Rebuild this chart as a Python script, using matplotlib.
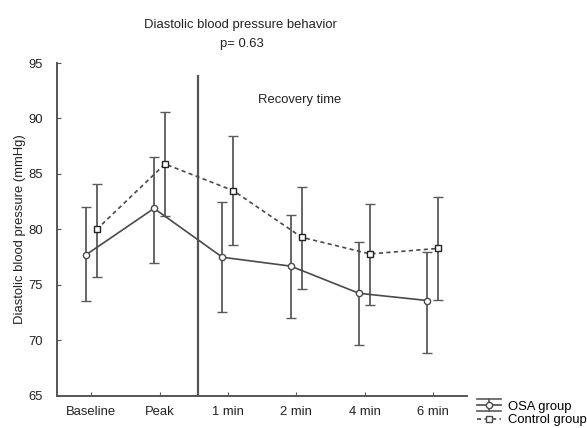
import matplotlib
matplotlib.use("Agg")
import matplotlib.pyplot as plt
from matplotlib.lines import Line2D
from matplotlib.legend_handler import HandlerBase
import numpy as np

plt.rcParams['font.family'] = ['Liberation Sans', 'DejaVu Sans']

# Time points and group means with error bar limits (mmHg)
categories = ["Baseline", "Peak", "1 min", "2 min", "4 min", "6 min"]
osa_mean = [77.7, 81.9, 77.5, 76.7, 74.25, 73.6]
osa_upper = [82.0, 86.5, 82.5, 81.3, 78.85, 78.0]
osa_lower = [73.6, 77.0, 72.6, 72.0, 69.6, 68.85]
ctrl_mean = [80.0, 85.9, 83.5, 79.3, 77.8, 78.3]
ctrl_upper = [84.1, 90.6, 88.4, 83.8, 82.3, 82.9]
ctrl_lower = [75.75, 81.2, 78.6, 74.6, 73.2, 73.65]

FS = 9.4
col = "#4a4a4a"
ecol = "#5a5a5a"
dash = (0, (2.5, 2))


class RangeHandler(HandlerBase):
    """Legend key: line with marker between two horizontal whiskers."""

    def __init__(self, marker, ls, whiskers):
        super().__init__()
        self.marker = marker
        self.ls = ls
        self.whiskers = whiskers

    def create_artists(self, legend, orig_handle, xdescent, ydescent, width, height,
                       fontsize, trans):
        cy = height / 2 - ydescent
        x0, x1 = -xdescent, width - xdescent
        xm = (x0 + x1) / 2
        arts = []
        if self.whiskers:
            d = height * 0.65
            for yy in (cy + d, cy - d):
                arts.append(Line2D([x0, x1], [yy, yy], color=ecol, lw=1.2))
            arts.append(Line2D([xm, xm], [cy - d, cy + d], color=ecol, lw=1.2))
        arts.append(Line2D([x0, x1], [cy, cy], color=col, lw=1.2, ls=self.ls))
        arts.append(Line2D([xm], [cy], marker=self.marker, ms=4.5, mfc='white',
                           mec=col, mew=1.0, ls='none'))
        for a in arts:
            a.set_transform(trans)
        return arts


fig = plt.figure(figsize=(5.87, 4.28), dpi=100)
ax = fig.add_axes([0.0971, 0.0748, 0.6985, 0.778])

x = np.arange(len(categories))
off = 0.08

osa_err = [np.array(osa_mean) - np.array(osa_lower), np.array(osa_upper) - np.array(osa_mean)]
ctrl_err = [np.array(ctrl_mean) - np.array(ctrl_lower), np.array(ctrl_upper) - np.array(ctrl_mean)]

h1 = ax.errorbar(x - off, osa_mean, yerr=osa_err, color=col, ecolor=ecol, lw=1.2,
                 elinewidth=1.3, capsize=3.5, capthick=1.2, marker='o', ms=4.5,
                 mfc='white', mec=col, mew=1.0, ls='-')
h2 = ax.errorbar(x + off, ctrl_mean, yerr=ctrl_err, color=col, ecolor=ecol, lw=1.2,
                 elinewidth=1.3, capsize=3.5, capthick=1.2, marker='s', ms=4.5,
                 mfc='white', mec='#222222', mew=1.0, ls=dash)

# Separator between exercise and recovery phases
ax.plot([1.56, 1.56], [65, 93.8], color="#555555", lw=1.6, zorder=1)
ax.text(2.44, 91.7, "Recovery time", fontsize=FS, color="#222222", va='center', ha='left')

ax.set_xlim(-0.5, 5.5)
ax.set_ylim(65, 95)
ax.set_xticks(x)
ax.set_xticklabels(categories)
ax.set_yticks([65, 70, 75, 80, 85, 90, 95])
ax.tick_params(direction='in', length=3, width=0.8, colors="#555555", labelcolor="#222222",
               labelsize=FS)
ax.tick_params(axis='x', pad=7)
ax.tick_params(axis='y', pad=10)
for s in ["top", "right"]:
    ax.spines[s].set_visible(False)
for s in ["left", "bottom"]:
    ax.spines[s].set_color("#555555")
    ax.spines[s].set_linewidth(1.4)

ax.set_ylabel("Diastolic blood pressure (mmHg)", fontsize=FS, color="#222222")
ax.yaxis.set_label_coords(-0.076, 0.5)

fig.text(0.41, 0.942, "Diastolic blood pressure behavior", fontsize=FS, ha='center',
         va='center', color="#222222")
fig.text(0.412, 0.898, "p= 0.63", fontsize=FS, ha='center', va='center', color="#222222")

fig.legend(handles=[h1, h2], labels=["OSA group", "Control group"], loc='upper left',
           bbox_to_anchor=(0.812, 0.064), frameon=False, fontsize=FS, handlelength=1.9,
           handletextpad=0.5, labelspacing=0.1, borderpad=0, borderaxespad=0,
           handler_map={h1: RangeHandler('o', '-', True), h2: RangeHandler('s', dash, False)})

fig.savefig("out.png", dpi=100)
